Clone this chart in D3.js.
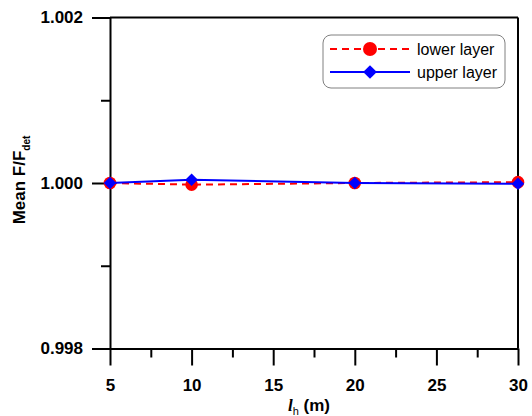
<!DOCTYPE html>
<html>
<head>
<meta charset="utf-8">
<script src="https://cdn.jsdelivr.net/npm/d3@7"></script>
<style>
  html, body { margin: 0; padding: 0; background: #fff; }
  svg { display: block; font-family: "Liberation Sans", Arial, sans-serif; }
</style>
</head>
<body>
<svg id="chart" width="532" height="416"></svg>
<script>
// Mean F/F_det against horizontal length l_h for two layers
const lh = [5, 10, 20, 30];
const lowerLayer = [1.00000, 0.99998, 1.00000, 1.00001];
const upperLayer = [1.00000, 1.00004, 1.00000, 0.99999];
const seriesNames = ["lower layer", "upper layer"];
const xTicks = [5, 10, 15, 20, 25, 30];
const xMinorTicks = [7.5, 12.5, 17.5, 22.5, 27.5];
const yTicks = [0.998, 1.000, 1.002];
const yMinorTicks = [0.999, 1.001];

const svg = d3.select("#chart");
const plotLeft = 110, plotRight = 518, plotTop = 17.5, plotBottom = 348.5;

const x = d3.scaleLinear().domain([5, 30]).range([plotLeft, plotRight]);
const y = d3.scaleLinear().domain([0.998, 1.002]).range([plotBottom, plotTop]);

// frame: top and right borders
svg.append("line").attr("x1", plotLeft).attr("x2", plotRight).attr("y1", plotTop).attr("y2", plotTop)
  .attr("stroke", "#000").attr("stroke-width", 2);
svg.append("line").attr("x1", plotRight).attr("x2", plotRight).attr("y1", plotTop).attr("y2", plotBottom)
  .attr("stroke", "#000").attr("stroke-width", 2);

function styleAxis(g) {
  g.selectAll("path.domain").attr("stroke", "#000").attr("stroke-width", 2);
  g.selectAll(".tick line").attr("stroke", "#000").attr("stroke-width", 2);
  g.selectAll(".tick text").attr("fill", "#000")
    .style("font-family", "'Liberation Sans', Arial, sans-serif")
    .style("font-size", "17px").style("font-weight", "bold");
}

// minor ticks
svg.append("g").attr("transform", `translate(0,${plotBottom})`)
  .call(d3.axisBottom(x).tickValues(xMinorTicks).tickSize(9).tickFormat(""))
  .call(g => g.select(".domain").remove())
  .call(styleAxis);
svg.append("g").attr("transform", `translate(${plotLeft},0)`)
  .call(d3.axisLeft(y).tickValues(yMinorTicks).tickSize(9).tickFormat(""))
  .call(g => g.select(".domain").remove())
  .call(styleAxis);

// major axes
svg.append("g").attr("transform", `translate(0,${plotBottom})`)
  .call(d3.axisBottom(x).tickValues(xTicks).tickSize(17).tickSizeOuter(0).tickPadding(13).tickFormat(d3.format("d")))
  .call(styleAxis);
svg.append("g").attr("transform", `translate(${plotLeft},0)`)
  .call(d3.axisLeft(y).tickValues(yTicks).tickSize(18).tickSizeOuter(0).tickPadding(9).tickFormat(d3.format(".3f")))
  .call(styleAxis);

// axis titles
const yTitle = svg.append("text")
  .attr("transform", "translate(25,180) rotate(-90)")
  .attr("text-anchor", "middle")
  .attr("fill", "#000")
  .style("font-size", "17px").style("font-weight", "bold");
yTitle.append("tspan").text("Mean F/F");
yTitle.append("tspan").attr("dy", 5).style("font-size", "10px").text("det");

const xTitle = svg.append("text")
  .attr("x", 309).attr("y", 411)
  .attr("text-anchor", "middle")
  .attr("fill", "#000")
  .style("font-size", "17px").style("font-weight", "bold");
xTitle.append("tspan").style("font-family", "'Liberation Serif', 'Times New Roman', serif")
  .style("font-style", "italic").text("l");
xTitle.append("tspan").attr("dy", 4).style("font-size", "11px").style("font-weight", "normal").text("h");
xTitle.append("tspan").attr("dy", -4).text(" (m)");

// series
const line = d3.line().x(d => x(d[0])).y(d => y(d[1]));
const lowerPts = lh.map((v, i) => [v, lowerLayer[i]]);
const upperPts = lh.map((v, i) => [v, upperLayer[i]]);

svg.append("path").datum(lowerPts).attr("d", line)
  .attr("fill", "none").attr("stroke", "#ff0000").attr("stroke-width", 2)
  .attr("stroke-dasharray", "7,5");
svg.append("g").selectAll("circle").data(lowerPts).join("circle")
  .attr("cx", d => x(d[0])).attr("cy", d => y(d[1])).attr("r", 6.3)
  .attr("fill", "#ff0000");

const diamond = d3.symbol().type(d3.symbolDiamond2).size(100);
svg.append("path").datum(upperPts).attr("d", line)
  .attr("fill", "none").attr("stroke", "#0000ff").attr("stroke-width", 2);
svg.append("g").selectAll("path").data(upperPts).join("path")
  .attr("transform", d => `translate(${x(d[0])},${y(d[1])})`)
  .attr("d", diamond).attr("fill", "#0000ff");

// legend
const lg = svg.append("g");
lg.append("rect").attr("x", 323).attr("y", 35).attr("width", 182).attr("height", 53)
  .attr("rx", 8).attr("ry", 8).attr("fill", "#fff").attr("stroke", "#808080").attr("stroke-width", 1);
const rows = [
  { name: seriesNames[0], color: "#ff0000", dash: "7,5", sym: "circle", yy: 49 },
  { name: seriesNames[1], color: "#0000ff", dash: null, sym: "diamond", yy: 72 }
];
rows.forEach(r => {
  lg.append("line").attr("x1", 330).attr("x2", 410).attr("y1", r.yy).attr("y2", r.yy)
    .attr("stroke", r.color).attr("stroke-width", 2)
    .attr("stroke-dasharray", r.dash);
  if (r.sym === "circle") {
    lg.append("circle").attr("cx", 370).attr("cy", r.yy).attr("r", 7).attr("fill", r.color);
  } else {
    lg.append("path").attr("transform", `translate(370,${r.yy})`)
      .attr("d", d3.symbol().type(d3.symbolDiamond2).size(120)).attr("fill", r.color);
  }
  lg.append("text").attr("x", 417).attr("y", r.yy).attr("dy", "0.35em")
    .attr("fill", "#000").style("font-size", "16px").text(r.name);
});
</script>
</body>
</html>
